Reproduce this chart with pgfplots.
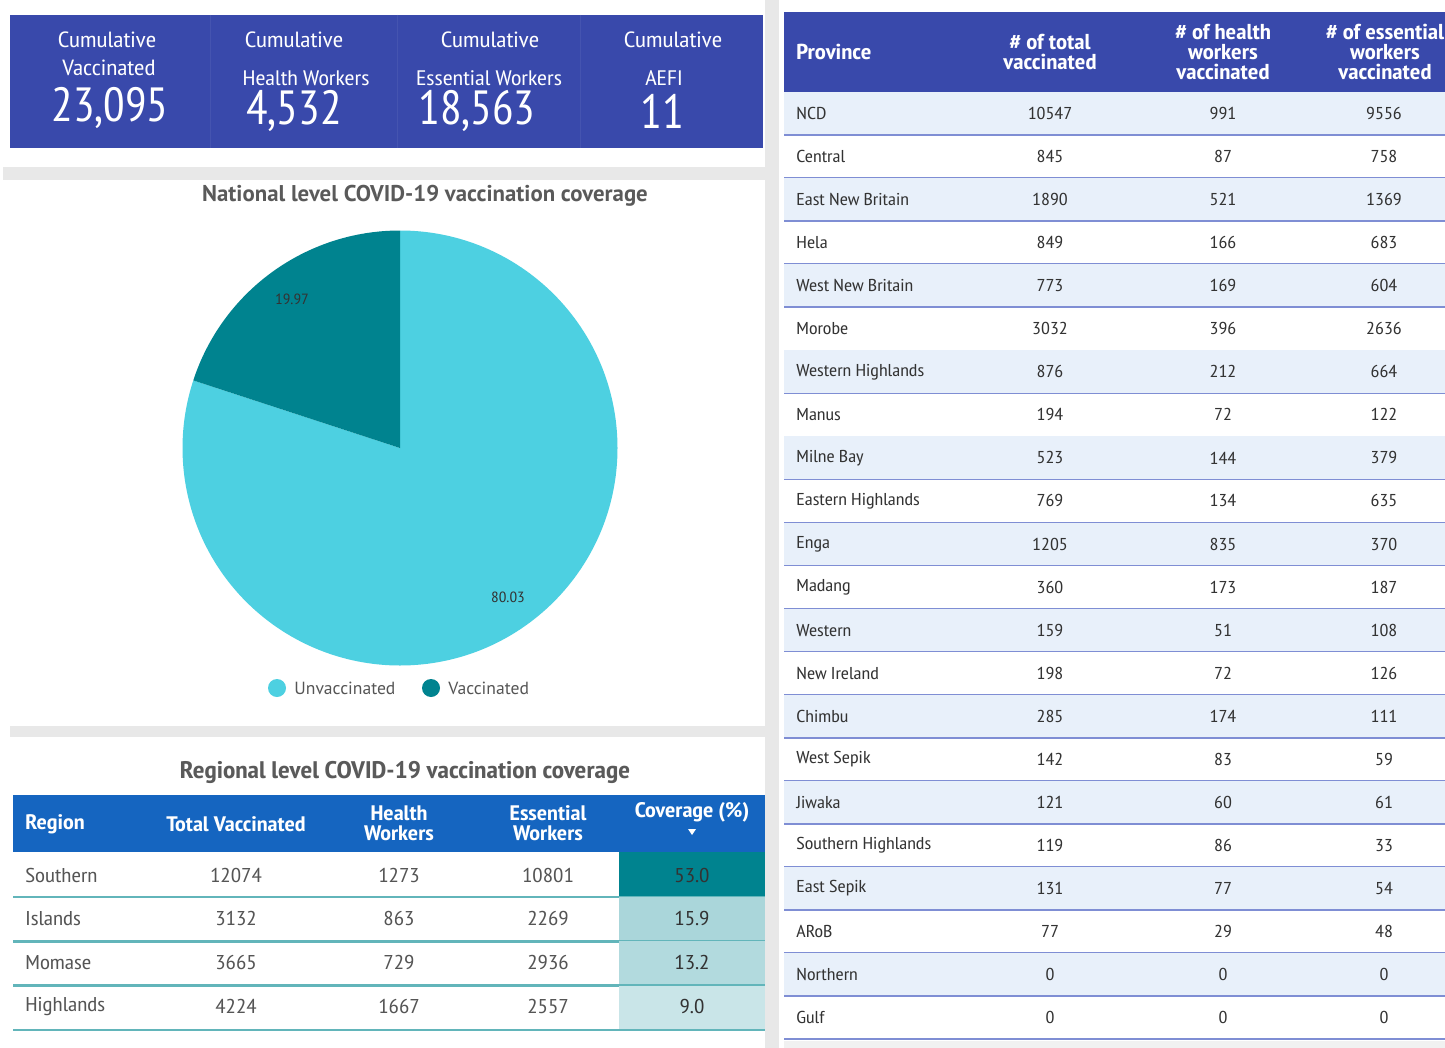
\documentclass[border=0pt]{standalone}
\usepackage{pgfplots}
\pgfplotsset{compat=1.18}
\usepackage{pgfplotstable}
\usepackage{fontspec}
\setmainfont{PT Sans}
\newfontfamily\narrow[FakeStretch=1.15]{PT Sans Narrow}
\newfontfamily\narrowplain{PT Sans Narrow}

\definecolor{kpiblue}{HTML}{3949AB}
\definecolor{regblue}{HTML}{1565C0}
\definecolor{tealc}{HTML}{00838F}
\definecolor{cyanc}{HTML}{4DD0E1}
\definecolor{bandgray}{HTML}{E8E8E8}
\definecolor{titlegray}{HTML}{5A5A5A}
\definecolor{bodygray}{HTML}{555555}
\definecolor{darktext}{HTML}{333333}
\definecolor{rowshade}{HTML}{E8F0FA}
\definecolor{rowline}{HTML}{7F8ED4}
\definecolor{regline}{HTML}{62B5BA}
\definecolor{cov0}{HTML}{00838F}
\definecolor{cov1}{HTML}{AAD6DA}
\definecolor{cov2}{HTML}{B2DADE}
\definecolor{cov3}{HTML}{C9E5E8}

\newcommand\fs[2]{\fontsize{#1}{#2}\selectfont}

% national coverage (%)
\pgfplotstableread{
label value
Vaccinated 19.97
Unvaccinated 80.03
}\pietable

% regional table
\pgfplotstableread[col sep=comma]{
region,total,health,essential,coverage
Southern,12074,1273,10801,53.0
Islands,3132,863,2269,15.9
Momase,3665,729,2936,13.2
Highlands,4224,1667,2557,9.0
}\regtable

% province table
\pgfplotstableread[col sep=comma]{
name,total,health,essential
NCD,10547,991,9556
Central,845,87,758
East New Britain,1890,521,1369
Hela,849,166,683
West New Britain,773,169,604
Morobe,3032,396,2636
Western Highlands,876,212,664
Manus,194,72,122
Milne Bay,523,144,379
Eastern Highlands,769,134,635
Enga,1205,835,370
Madang,360,173,187
Western,159,51,108
New Ireland,198,72,126
Chimbu,285,174,111
West Sepik,142,83,59
Jiwaka,121,60,61
Southern Highlands,119,86,33
East Sepik,131,77,54
ARoB,77,29,48
Northern,0,0,0
Gulf,0,0,0
}\provtable

\pgfplotstablegetelem{0}{value}\of\pietable
\let\vacc\pgfplotsretval
\pgfmathsetmacro\aend{90+3.6*\vacc}
\pgfmathsetmacro\lxa{0.846*cos((90+\aend)/2)}
\pgfmathsetmacro\lya{0.846*sin((90+\aend)/2)}
\pgfmathsetmacro\lxb{0.846*cos((\aend+450)/2)}
\pgfmathsetmacro\lyb{0.846*sin((\aend+450)/2)}

\begin{document}
\begin{tikzpicture}
\begin{scope}[x=0.5pt,y=-0.5pt]
\fill[white] (0,0) rectangle (1445,1048);
\useasboundingbox (0,0) rectangle (1445,1048);

% separators
\fill[bandgray] (765,0) rectangle (779,1048);
\fill[bandgray] (3,167) rectangle (765,180);
\fill[bandgray] (10,726) rectangle (765,737);
\fill[bandgray!60] (784,1041) rectangle (1445,1048);

% KPI tiles
\fill[kpiblue] (10,15) rectangle (763,148);
\foreach \xx in {210,397,580}
  \draw[kpiblue!94!white, line width=0.5pt] (\xx,15) -- (\xx,148);
\begin{scope}[text=white]
\node[font=\narrow\fs{11}{12}] at (107,40) {Cumulative};
\node[font=\narrow\fs{11}{12}] at (109,68) {Vaccinated};
\node[font=\narrowplain\fs{24}{24}] at (110,108) {23,095};
\node[font=\narrow\fs{11}{12}] at (294,40) {Cumulative};
\node[font=\narrow\fs{10.5}{12}] at (306,78) {Health Workers};
\node[font=\narrowplain\fs{24}{24}] at (294,111) {4,532};
\node[font=\narrow\fs{11}{12}] at (490,40) {Cumulative};
\node[font=\narrow\fs{10.5}{12}] at (489,78) {Essential Workers};
\node[font=\narrowplain\fs{24}{24}] at (477,111) {18,563};
\node[font=\narrow\fs{11}{12}] at (673,40) {Cumulative};
\node[font=\narrow\fs{10.5}{12}] at (664,78) {AEFI};
\node[font=\narrowplain\fs{24}{24}] at (662,111) {11};
\end{scope}

% pie title and legend
\node[font=\bfseries\fs{11.4}{12}, text=titlegray] at (425,196) {National level COVID-19 vaccination coverage};
\fill[cyanc] (277,688) circle[radius=9];
\node[anchor=west, font=\fs{8.8}{10}, text=bodygray, inner sep=0pt] at (294,688) {Unvaccinated};
\fill[tealc] (431,688) circle[radius=9];
\node[anchor=west, font=\fs{8.8}{10}, text=bodygray, inner sep=0pt] at (448,688) {Vaccinated};

% regional table
\node[font=\narrow\bfseries\fs{12}{12}, text=titlegray] at (405,772) {Regional level COVID-19 vaccination coverage};
\fill[regblue] (13,795) rectangle (765,852);
\begin{scope}[text=white, font=\narrow\bfseries\fs{10.5}{10}]
\node[anchor=west, inner sep=0pt] at (25,824) {Region};
\node at (236,824) {Total Vaccinated};
\node[align=center] at (399,823) {Health\\Workers};
\node[align=center] at (548,823) {Essential\\Workers};
\node at (692,812) {Coverage (\%)};
\end{scope}
\fill[white] (688,829) -- (696,829) -- (692,835) -- cycle;
\pgfplotstablegetrowsof{\regtable}
\pgfmathtruncatemacro\nreg{\pgfplotsretval-1}
\foreach \i in {0,...,\nreg}{
  \pgfmathsetmacro\yt{\i==0 ? 852 : 897+44.3*(\i-1)}
  \pgfmathsetmacro\yb{897+44.3*\i}
  \pgfmathsetmacro\yc{875+43.8*\i}
  \fill[cov\i] (619,\yt) rectangle (765,\yb);
  \draw[regline, line width=1.2pt] (13,\yb) -- (765,\yb);
  \pgfplotstablegetelem{\i}{region}\of\regtable
  \node[anchor=west, inner sep=0pt, font=\narrow\fs{10}{12}, text=bodygray] at (25,\yc) {\pgfplotsretval};
  \pgfplotstablegetelem{\i}{total}\of\regtable
  \node[font=\narrow\fs{10}{12}, text=bodygray] at (236,\yc) {\pgfplotsretval};
  \pgfplotstablegetelem{\i}{health}\of\regtable
  \node[font=\narrow\fs{10}{12}, text=bodygray] at (399,\yc) {\pgfplotsretval};
  \pgfplotstablegetelem{\i}{essential}\of\regtable
  \node[font=\narrow\fs{10}{12}, text=bodygray] at (548,\yc) {\pgfplotsretval};
  \pgfplotstablegetelem{\i}{coverage}\of\regtable
  \node[font=\narrow\fs{10}{12}, text=darktext] at (692,\yc) {\pgfplotsretval};
}

% province table
\fill[kpiblue] (784,12) rectangle (1445,92);
\begin{scope}[text=white, font=\narrow\bfseries\fs{10.8}{10}]
\node[anchor=west, inner sep=0pt] at (796,52) {Province};
\node[align=center] at (1050,52) {\# of total\\vaccinated};
\node[align=center] at (1223,52) {\# of health\\workers\\vaccinated};
\node[align=center] at (1385,52) {\# of essential\\workers\\vaccinated};
\end{scope}
\pgfplotstablegetrowsof{\provtable}
\pgfmathtruncatemacro\nprov{\pgfplotsretval-1}
\foreach \i in {0,...,\nprov}{
  \pgfmathsetmacro\yt{92+43.05*\i}
  \pgfmathsetmacro\yb{92+43.05*(\i+1)}
  \pgfmathsetmacro\yc{113.5+43.05*\i}
  \ifodd\i\else\fill[rowshade] (784,\yt) rectangle (1445,\yb);\fi
  \draw[rowline, line width=0.8pt] (784,\yb) -- (1445,\yb);
  \pgfplotstablegetelem{\i}{name}\of\provtable
  \node[anchor=west, inner sep=0pt, font=\narrow\fs{8.6}{10}, text=darktext] at (796,\yc) {\pgfplotsretval};
  \pgfplotstablegetelem{\i}{total}\of\provtable
  \node[font=\narrow\fs{8.6}{10}, text=darktext] at (1050,\yc) {\pgfplotsretval};
  \pgfplotstablegetelem{\i}{health}\of\provtable
  \node[font=\narrow\fs{8.6}{10}, text=darktext] at (1223,\yc) {\pgfplotsretval};
  \pgfplotstablegetelem{\i}{essential}\of\provtable
  \node[font=\narrow\fs{8.6}{10}, text=darktext] at (1384,\yc) {\pgfplotsretval};
}
\end{scope}

% pie chart in its own axis
\begin{axis}[
  at={(200pt,-224pt)}, anchor=center,
  hide axis, scale only axis,
  width=217.5pt, height=217.5pt,
  xmin=-1, xmax=1, ymin=-1, ymax=1,
  clip=false,
]
\fill[cyanc] (axis cs:0,0) -- (axis cs:0,1)
  arc[start angle=90, end angle=\aend-360, radius=108.75pt] -- cycle;
\fill[tealc] (axis cs:0,0) -- (axis cs:0,1)
  arc[start angle=90, end angle=\aend, radius=108.75pt] -- cycle;
\node[font=\narrow\fs{7.4}{8}, text=darktext] at (axis cs:\lxa,\lya) {19.97};
\node[font=\narrow\fs{7.4}{8}, text=darktext] at (axis cs:\lxb,\lyb) {80.03};
\end{axis}
\end{tikzpicture}
\end{document}
